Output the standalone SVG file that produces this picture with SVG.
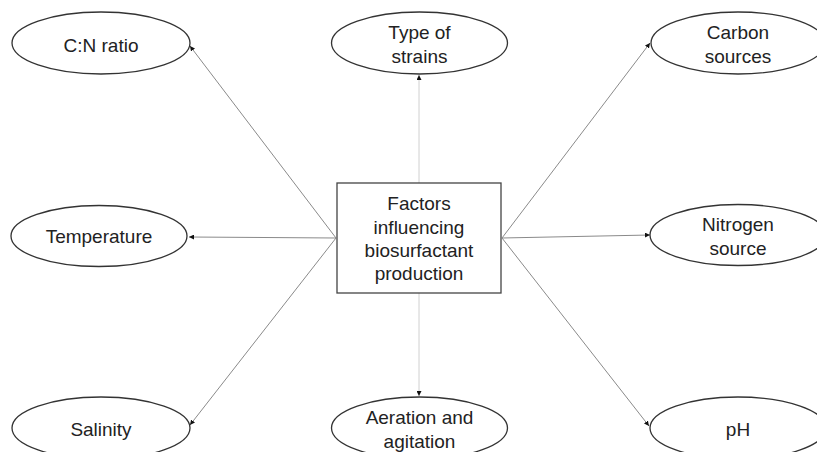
<svg xmlns="http://www.w3.org/2000/svg" width="817" height="452" viewBox="0 0 817 452">
<style>
.n{fill:#fff;stroke:#333;stroke-width:1.3}
.t{font-family:"Liberation Sans",Arial,sans-serif;font-size:19px;fill:#222;text-anchor:middle}
.c{stroke:#8a8a8a;stroke-width:1;fill:none;marker-end:url(#ah)}
.v{stroke:#d0d0d0;stroke-width:1;fill:none;marker-end:url(#ah)}
</style>
<defs>
<marker id="ah" viewBox="0 0 10 10" refX="10" refY="5" markerWidth="5" markerHeight="5" orient="auto" markerUnits="userSpaceOnUse">
<path d="M0,0 L10,5 L0,10 z" fill="#111"/>
</marker>
</defs>
<rect width="817" height="452" fill="#fff"/>
<g id="connectors">
<line class="c" x1="336" y1="238" x2="190" y2="46"/>
<line class="c" x1="336" y1="238" x2="189" y2="237"/>
<line class="c" x1="336" y1="238" x2="190" y2="425"/>
<line class="v" x1="419" y1="183" x2="419" y2="75"/>
<line class="v" x1="419" y1="293" x2="419" y2="396"/>
<line class="c" x1="502" y1="238" x2="650" y2="43"/>
<line class="c" x1="502" y1="238" x2="650" y2="235"/>
<line class="c" x1="502" y1="238" x2="649" y2="426"/>
</g>
<g id="center">
<rect x="337" y="183" width="164" height="110" fill="#fff" stroke="#444" stroke-width="1.3"/>
<text class="t" x="419" y="210">Factors</text>
<text class="t" x="419" y="234">influencing</text>
<text class="t" x="419" y="257">biosurfactant</text>
<text class="t" x="419" y="280">production</text>
</g>
<g id="cn-ratio">
<ellipse class="n" cx="101" cy="43" rx="89" ry="31"/>
<text class="t" x="101" y="52">C:N ratio</text>
</g>
<g id="type-of-strains">
<ellipse class="n" cx="419.5" cy="43" rx="88" ry="31"/>
<text class="t" x="419.5" y="39">Type of</text>
<text class="t" x="419.5" y="63">strains</text>
</g>
<g id="carbon-sources">
<ellipse class="n" cx="738" cy="43" rx="87" ry="31"/>
<text class="t" x="738" y="39">Carbon</text>
<text class="t" x="738" y="63">sources</text>
</g>
<g id="temperature">
<ellipse class="n" cx="99" cy="236" rx="88" ry="30.5"/>
<text class="t" x="99" y="243">Temperature</text>
</g>
<g id="nitrogen-source">
<ellipse class="n" cx="738" cy="235" rx="88" ry="30.5"/>
<text class="t" x="738" y="231">Nitrogen</text>
<text class="t" x="738" y="255">source</text>
</g>
<g id="salinity">
<ellipse class="n" cx="101" cy="428" rx="89" ry="31"/>
<text class="t" x="101" y="436">Salinity</text>
</g>
<g id="aeration-and-agitation">
<ellipse class="n" cx="419.5" cy="428" rx="88" ry="31"/>
<text class="t" x="419.5" y="424">Aeration and</text>
<text class="t" x="419.5" y="448">agitation</text>
</g>
<g id="ph">
<ellipse class="n" cx="738" cy="428" rx="88" ry="31"/>
<text class="t" x="738" y="436">pH</text>
</g>
</svg>
